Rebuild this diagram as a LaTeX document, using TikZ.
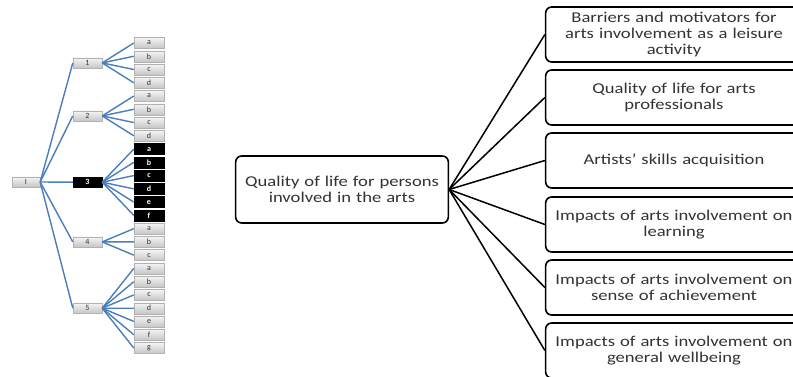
\documentclass[tikz,border=0pt]{standalone}
\usepackage{fontspec}
\setmainfont{Carlito}
\newfontfamily\widefont[FakeStretch=1.24]{Carlito}
\begin{document}
\begin{tikzpicture}[x=1pt,y=-1pt,
  blueline/.style={draw={rgb,255:red,74;green,126;blue,187},line width=1.4pt},
  leaf/.style={draw=gray!60,top color=gray!8,bottom color=gray!45,minimum width=30pt,minimum height=11pt,inner sep=0pt,font=\fontsize{8}{8}\selectfont,text=black!80},
  leafdark/.style={draw=black,fill=black,minimum width=30pt,minimum height=11pt,inner sep=0pt,font=\fontsize{8}{8}\selectfont\bfseries,text=white},
  mid/.style={leaf,minimum width=29pt,minimum height=10pt},
  middark/.style={leafdark,minimum width=29pt,minimum height=10pt},
  bigbox/.style={draw=black,line width=1.6pt,rounded corners=6pt,fill=white,align=center,font=\widefont\fontsize{15}{16}\selectfont,text=black!80},
  conn/.style={draw=black,line width=1.5pt}]
\useasboundingbox (0,0) rectangle (793,377);
\clip (0,0) rectangle (793,377);
% left tree
\node[mid,minimum width=28pt] (root) at (26,182) {I};
\node[mid] (n1) at (87.5,62.9) {1};
\node[mid] (n2) at (87.5,115.9) {2};
\node[middark] (n3) at (87.5,182.2) {3};
\node[mid] (n4) at (87.5,241.9) {4};
\node[mid] (n5) at (87.5,308.2) {5};
\foreach \n in {n1,n2,n3,n4,n5} \draw[blueline] (root.east) -- (\n.west);
\foreach \l [count=\k from 0] in {a,b,c,d} {
  \node[leaf] (g1\l) at (149,{43+\k*13.26}) {\l};
  \draw[blueline] (n1.east) -- (g1\l.west);}
\foreach \l [count=\k from 4] in {a,b,c,d} {
  \node[leaf] (g2\l) at (149,{43+\k*13.26}) {\l};
  \draw[blueline] (n2.east) -- (g2\l.west);}
\foreach \l [count=\k from 8] in {a,b,c,d,e,f} {
  \node[leafdark] (g3\l) at (149,{43+\k*13.26}) {\l};
  \draw[blueline] (n3.east) -- (g3\l.west);}
\foreach \l [count=\k from 14] in {a,b,c} {
  \node[leaf] (g4\l) at (149,{43+\k*13.26}) {\l};
  \draw[blueline] (n4.east) -- (g4\l.west);}
\foreach \l [count=\k from 17] in {a,b,c,d,e,f,g} {
  \node[leaf] (g5\l) at (149,{43+\k*13.26}) {\l};
  \draw[blueline] (n5.east) -- (g5\l.west);}
% right part
\node[bigbox,minimum width=210pt,minimum height=67pt,text width=206pt] (main) at (342,189.5) {Quality of life for persons\\involved in the arts};
\node[bigbox,minimum width=254pt,minimum height=55pt,text width=250pt] (r1) at (674,34.5) {Barriers and motivators for\\arts involvement as a leisure\\activity};
\node[bigbox,minimum width=254pt,minimum height=55pt,text width=250pt] (r2) at (674,97.5) {Quality of life for arts\\professionals};
\node[bigbox,minimum width=254pt,minimum height=55pt,text width=250pt] (r3) at (674,160.5) {Artists’ skills acquisition};
\node[bigbox,minimum width=254pt,minimum height=55pt,text width=250pt] (r4) at (674,224.5) {Impacts of arts involvement on\\learning};
\node[bigbox,minimum width=254pt,minimum height=55pt,text width=250pt] (r5) at (674,287.5) {Impacts of arts involvement on\\sense of achievement};
\node[bigbox,minimum width=254pt,minimum height=55pt,text width=250pt] (r6) at (674,350.5) {Impacts of arts involvement on\\general wellbeing};
\foreach \r in {r1,r2,r3,r4,r5,r6} \draw[conn] (main.east) -- (\r.west);
\end{tikzpicture}
\end{document}
